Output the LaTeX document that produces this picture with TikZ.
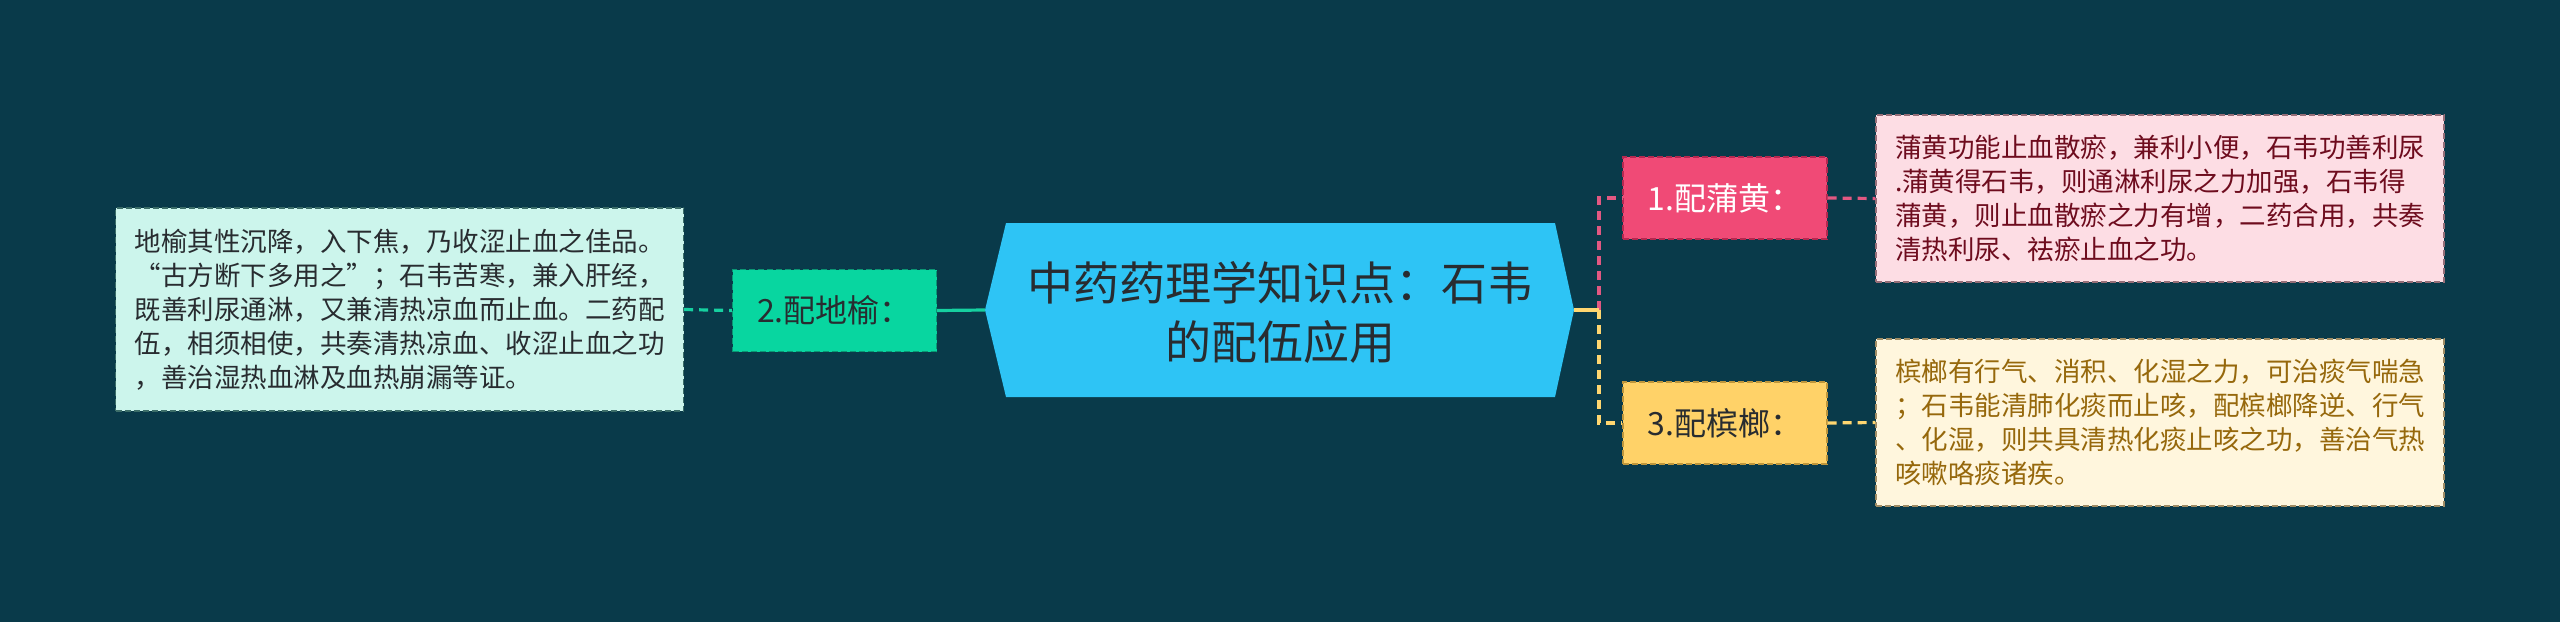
\documentclass[tikz,border=0pt]{standalone}
\usepackage{fontspec}
\setmainfont{Noto Sans CJK SC}
\definecolor{bg}{RGB}{9,58,74}
\definecolor{txt}{RGB}{40,44,48}
\definecolor{mint}{RGB}{204,245,236}
\definecolor{mintB}{RGB}{60,110,105}
\definecolor{green2}{RGB}{8,214,160}
\definecolor{green2B}{RGB}{10,150,115}
\definecolor{tealL}{RGB}{22,208,160}
\definecolor{sky}{RGB}{46,196,245}
\definecolor{pinkF}{RGB}{240,74,118}
\definecolor{pinkB}{RGB}{180,40,80}
\definecolor{pinkL}{RGB}{226,88,130}
\definecolor{pinkT}{RGB}{253,221,228}
\definecolor{pinkTB}{RGB}{150,110,120}
\definecolor{pinkTx}{RGB}{110,12,30}
\definecolor{yelF}{RGB}{255,210,104}
\definecolor{yelB}{RGB}{190,150,60}
\definecolor{yelL}{RGB}{255,214,112}
\definecolor{yelT}{RGB}{255,246,221}
\definecolor{yelTB}{RGB}{160,140,100}
\definecolor{yelTx}{RGB}{150,104,12}
\tikzset{
  leafbox/.style={draw, dash pattern=on 3pt off 1.5pt, line width=0.6pt,
    minimum width=284pt, inner sep=0pt, align=left,
    font=\fontsize{13.25pt}{17pt}\selectfont},
  midbox/.style={draw, dash pattern=on 3pt off 1.5pt, line width=0.6pt,
    minimum width=102pt, minimum height=41pt, inner sep=0pt,
    font=\fontsize{16pt}{19pt}\selectfont},
  conn/.style={line width=1.6pt},
  dconn/.style={line width=1.6pt, dash pattern=on 4.5pt off 3pt},
}
\begin{document}
\begin{tikzpicture}[x=0.5pt,y=-0.5pt]
\useasboundingbox (0,0) rectangle (2560,622);
\fill[bg] (0,0) rectangle (2560,622);

% root hexagon
\fill[sky] (985,310) -- (1006,223) -- (1555,223) -- (1574,310) -- (1555,397) -- (1006,397) -- cycle;
\coordinate (rootW) at (985,310);
\coordinate (rootE) at (1574,310);
\node[text=txt, align=center, font=\fontsize{23pt}{29.5pt}\selectfont] (root) at (1280,312)
  {中药药理学知识点：石韦\\的配伍应用};

% left branch
\node[leafbox, fill=mint, draw=mintB, text=txt, minimum height=101.5pt] (L) at (399.5,309.5)
  {地榆其性沉降，入下焦，乃收涩止血之佳品。\\“古方断下多用之”；石韦苦寒，兼入肝经，\\既善利尿通淋，又兼清热凉血而止血。二药配\\伍，相须相使，共奏清热凉血、收涩止血之功\\，善治湿热血淋及血热崩漏等证。};
\node[midbox, fill=green2, draw=green2B, text=txt] (B2) at (834.5,310.5) {2.配地榆：};

% right branches
\node[midbox, fill=pinkF, draw=pinkB, text=white] (B1) at (1725,198) {1.配蒲黄：};
\node[leafbox, fill=pinkT, draw=pinkTB, text=pinkTx, minimum height=83.5pt] (P) at (2160,198.5)
  {蒲黄功能止血散瘀，兼利小便，石韦功善利尿\\.蒲黄得石韦，则通淋利尿之力加强，石韦得\\蒲黄，则止血散瘀之力有增，二药合用，共奏\\清热利尿、祛瘀止血之功。};
\node[midbox, fill=yelF, draw=yelB, text=txt] (B3) at (1725,423) {3.配槟榔：};
\node[leafbox, fill=yelT, draw=yelTB, text=yelTx, minimum height=83.5pt] (Y) at (2160,422.5)
  {槟榔有行气、消积、化湿之力，可治痰气喘急\\；石韦能清肺化痰而止咳，配槟榔降逆、行气\\、化湿，则共具清热化痰止咳之功，善治气热\\咳嗽咯痰诸疾。};

% connectors
\coordinate (J) at (1599,310);
\draw[dconn, tealL] (L.east) -- (B2.west);
\draw[conn, tealL] (B2.east) -- (rootW);
\draw[dconn, pinkL] (J) |- (B1.west);
\draw[dconn, yelL] (J) |- (B3.west);
\draw[conn, yelL] (rootE) -- (J);
\draw[dconn, pinkL] (B1.east) -- (P.west);
\draw[dconn, yelL] (B3.east) -- (Y.west);
\end{tikzpicture}
\end{document}
